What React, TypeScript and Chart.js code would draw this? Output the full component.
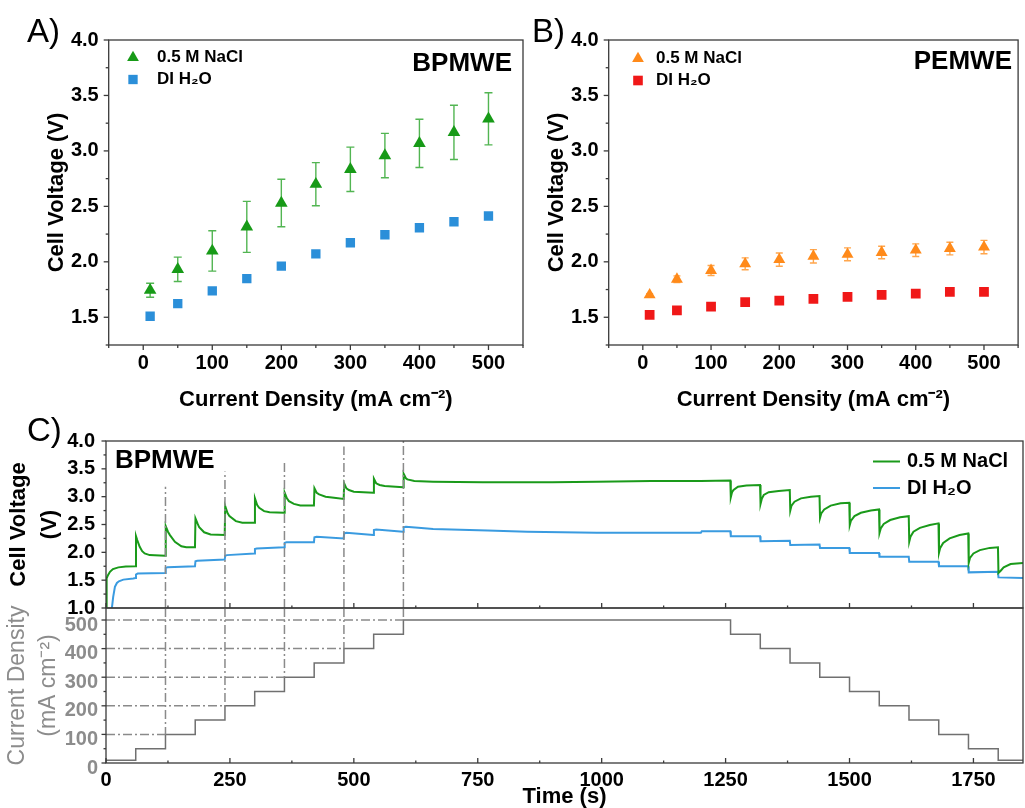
import React, { useEffect, useRef } from 'react';
import { Chart, registerables } from 'chart.js';

Chart.register(...registerables);

const W = 1025;
const H = 808;
const FONT = "'Liberation Sans', Arial, Helvetica, sans-serif";
Chart.defaults.font.family = FONT;
Chart.defaults.color = '#000';

// ---------- Panels A / B : polarization data ----------
const currentDensities = [10, 50, 100, 150, 200, 250, 300, 350, 400, 450, 500];
const bpmNaCl = [1.744, 1.932, 2.098, 2.315, 2.53, 2.70, 2.834, 2.958, 3.068, 3.167, 3.289];
const bpmNaClErr = [0.063, 0.11, 0.182, 0.23, 0.214, 0.194, 0.2, 0.2, 0.218, 0.245, 0.235];
const bpmDI = [1.509, 1.623, 1.738, 1.849, 1.961, 2.072, 2.172, 2.244, 2.307, 2.361, 2.413];
const pemNaCl = [1.702, 1.843, 1.922, 1.982, 2.02, 2.05, 2.068, 2.084, 2.105, 2.12, 2.133];
const pemNaClErr = [0.01, 0.03, 0.045, 0.054, 0.06, 0.06, 0.058, 0.057, 0.057, 0.057, 0.06];
const pemDI = [1.521, 1.563, 1.596, 1.636, 1.651, 1.666, 1.684, 1.702, 1.714, 1.729, 1.729];
const pemDIErr = [0.018, 0.018, 0.018, 0.018, 0.018, 0.018, 0.018, 0.018, 0.018, 0.018, 0.018];

const xTicksAB = [0, 100, 200, 300, 400, 500];
const xMinorAB = [-50, 50, 150, 250, 350, 450, 550];
const yTicksAB = [1.5, 2.0, 2.5, 3.0, 3.5, 4.0];
const yMinorAB = [1.25, 1.75, 2.25, 2.75, 3.25, 3.75];

// ---------- Panel C : chronopotentiometry ----------
const naclTime = [0, 0.5, 2, 4, 8, 14, 25, 40, 59.5,
  60.5, 63, 68, 73, 78, 88, 119.5,
  120.5, 125, 129, 139, 152, 162, 179.5,
  180.5, 185, 188, 198, 211, 239.5,
  240.5, 245, 249, 262, 275, 299.5,
  300.5, 305, 309, 319, 330, 359.5,
  360.5, 365, 369, 379, 392, 419.5,
  420.5, 425, 430, 443, 460, 479.5,
  480.5, 485, 490, 500, 539.5,
  540.5, 545, 552, 562, 599.5,
  600.5, 605, 608, 622, 660, 760, 900, 990, 1100, 1200, 1259.5,
  1260.5, 1263, 1266, 1275, 1292, 1319.5,
  1320.5, 1323, 1327, 1337, 1357, 1379.5,
  1380.5, 1383, 1389, 1402, 1422, 1439.5,
  1440.5, 1443, 1449, 1462, 1482, 1499.5,
  1500.5, 1503, 1510, 1523, 1543, 1559.5,
  1560.5, 1563, 1569, 1582, 1602, 1619.5,
  1620.5, 1623, 1629, 1642, 1662, 1679.5,
  1680.5, 1683, 1689, 1702, 1722, 1739.5,
  1740.5, 1743, 1750, 1763, 1783, 1799.5,
  1800.5, 1805, 1811, 1825, 1850];
const naclVolt = [1.0, 1.45, 1.53, 1.59, 1.65, 1.70, 1.73, 1.745, 1.75,
  2.29, 2.22, 2.10, 2.02, 1.98, 1.95, 1.94,
  2.47, 2.37, 2.31, 2.19, 2.11, 2.09, 2.09,
  2.61, 2.51, 2.45, 2.36, 2.32, 2.31,
  2.83, 2.71, 2.65, 2.56, 2.53, 2.53,
  2.97, 2.85, 2.80, 2.74, 2.72, 2.71,
  3.07, 2.97, 2.92, 2.87, 2.84, 2.84,
  3.15, 3.07, 3.04, 3.00, 2.98, 2.96,
  3.24, 3.15, 3.12, 3.09, 3.07,
  3.32, 3.24, 3.21, 3.19, 3.17,
  3.41, 3.33, 3.31, 3.28, 3.27, 3.26, 3.26, 3.27, 3.28, 3.28, 3.29,
  2.99, 3.08, 3.12, 3.18, 3.20, 3.21,
  2.87, 2.96, 3.03, 3.08, 3.10, 3.12,
  2.75, 2.84, 2.91, 2.97, 3.00, 3.01,
  2.62, 2.70, 2.77, 2.84, 2.88, 2.89,
  2.49, 2.57, 2.65, 2.71, 2.75, 2.77,
  2.35, 2.43, 2.51, 2.58, 2.63, 2.65,
  2.19, 2.28, 2.37, 2.44, 2.49, 2.52,
  1.99, 2.08, 2.17, 2.25, 2.31, 2.34,
  1.81, 1.90, 1.98, 2.04, 2.08, 2.09,
  1.63, 1.67, 1.73, 1.79, 1.81];

const diTime = [11.5, 14.5, 18, 22, 26, 35, 55, 59.5,
  60.5, 64, 119.5,
  120.5, 124, 179.5,
  180.5, 184, 239.5,
  240.5, 244, 299.5,
  300.5, 304, 359.5,
  360.5, 364, 419.5,
  420.5, 425, 479.5,
  480.5, 485, 539.5,
  540.5, 545, 599.5,
  600.5, 605, 630, 660, 770, 850, 990, 1200, 1202, 1259.5,
  1260.5, 1319.5, 1320.5, 1379.5, 1380.5, 1439.5, 1440.5, 1499.5, 1500.5, 1559.5,
  1560.5, 1619.5, 1620.5, 1679.5, 1680.5, 1739.5, 1740.5, 1799.5, 1800.5, 1850];
const diVolt = [0.97, 1.2, 1.38, 1.45, 1.48, 1.51, 1.53, 1.54,
  1.60, 1.62, 1.63,
  1.72, 1.73, 1.75,
  1.84, 1.85, 1.87,
  1.94, 1.95, 1.98,
  2.06, 2.07, 2.09,
  2.17, 2.18, 2.18,
  2.27, 2.28, 2.25,
  2.34, 2.35, 2.31,
  2.40, 2.41, 2.37,
  2.45, 2.46, 2.44, 2.42, 2.39, 2.37, 2.35, 2.35, 2.38, 2.38,
  2.29, 2.29, 2.20, 2.21, 2.13, 2.14, 2.08, 2.08, 1.99, 1.99,
  1.92, 1.92, 1.83, 1.83, 1.75, 1.75, 1.64, 1.65, 1.55, 1.54];

const curTime = [0, 60, 120, 180, 240, 300, 360, 420, 480, 540, 600, 1260, 1320, 1380, 1440, 1500, 1560, 1620, 1680, 1740, 1800, 1850];
const curValue = [10, 50, 100, 150, 200, 250, 300, 350, 400, 450, 500, 450, 400, 350, 300, 250, 200, 150, 100, 50, 10, 10];

const refTime = [120, 240, 360, 480, 600];
const refVoltTop = [3.18, 3.45, 3.66, 3.9, 4.0];
const refCurrent = [100, 200, 300, 400, 500];

const xTicksC = [0, 250, 500, 750, 1000, 1250, 1500, 1750];
const xMinorC = [125, 375, 625, 875, 1125, 1375, 1625];
const yTicksC1 = [1.0, 1.5, 2.0, 2.5, 3.0, 3.5, 4.0];
const yMinorC1 = [1.25, 1.75, 2.25, 2.75, 3.25, 3.75];
const yTicksC2 = [0, 100, 200, 300, 400, 500];
const yMinorC2 = [50, 150, 250, 350, 450];

// ---------- colours ----------
const GREEN = '#179a17';
const GREEN_ERR = '#52b552';
const BLUE = '#2b8fd9';
const ORANGE = '#ff8a1a';
const ORANGE_ERR = '#ffa64d';
const RED = '#f01818';
const RED_ERR = '#f76a6a';
const LINE_GREEN = '#1a9a1a';
const LINE_BLUE = '#3a9be0';
const GREY = '#8c8c8c';
const DASH = '#8a8a8a';

const xy = (xs: number[], ys: number[]) => xs.map((x, i) => ({ x, y: ys[i] }));

// ---------- decoration plugin (frame, ticks, error bars, texts, legend) ----------
const decoPlugin = {
  id: 'deco',
  beforeDatasetsDraw(chart: any) {
    const { ctx, scales } = chart;
    chart.data.datasets.forEach((ds: any) => {
      if (!ds.errorBars) return;
      ctx.save();
      ctx.strokeStyle = ds.errorColor;
      ctx.lineWidth = 1.4;
      const cap = ds.errorCap || 4;
      ds.data.forEach((p: any, j: number) => {
        const e = ds.errorBars[j];
        const px = scales.x.getPixelForValue(p.x);
        const yt = scales.y.getPixelForValue(p.y + e);
        const yb = scales.y.getPixelForValue(p.y - e);
        ctx.beginPath();
        ctx.moveTo(px, yt); ctx.lineTo(px, yb);
        ctx.moveTo(px - cap, yt); ctx.lineTo(px + cap, yt);
        ctx.moveTo(px - cap, yb); ctx.lineTo(px + cap, yb);
        ctx.stroke();
      });
      ctx.restore();
    });
  },
  afterDraw(chart: any, _args: any, opts: any) {
    const { ctx, chartArea: a, scales } = chart;
    ctx.save();
    ctx.strokeStyle = '#3a3a3a';
    ctx.lineWidth = 1.3;
    ctx.strokeRect(a.left, a.top, a.right - a.left, a.bottom - a.top);
    const drawTicks = (axis: string, vals: number[], len: number, dir: number) => {
      vals.forEach((v) => {
        ctx.beginPath();
        if (axis === 'x') {
          const px = scales.x.getPixelForValue(v);
          ctx.moveTo(px, a.bottom);
          ctx.lineTo(px, a.bottom + dir * len);
        } else {
          const py = scales.y.getPixelForValue(v);
          ctx.moveTo(a.left, py);
          ctx.lineTo(a.left - dir * len, py);
        }
        ctx.stroke();
      });
    };
    (opts.ticks || []).forEach((t: any) => drawTicks(t.axis, t.values, t.len, t.dir));

    (opts.legend || []).forEach((l: any) => {
      ctx.fillStyle = l.color;
      ctx.strokeStyle = l.color;
      if (l.kind === 'tri') {
        const r = l.r;
        ctx.beginPath();
        ctx.moveTo(l.x, l.y - r);
        ctx.lineTo(l.x + r * 0.866, l.y + r / 2);
        ctx.lineTo(l.x - r * 0.866, l.y + r / 2);
        ctx.closePath();
        ctx.fill();
      } else if (l.kind === 'rect') {
        const s = l.r * Math.SQRT1_2;
        ctx.fillRect(l.x - s, l.y - s, 2 * s, 2 * s);
      } else {
        ctx.lineWidth = 2;
        ctx.beginPath();
        ctx.moveTo(l.x, l.y);
        ctx.lineTo(l.x + l.len, l.y);
        ctx.stroke();
      }
      ctx.fillStyle = '#000';
      ctx.font = `bold ${l.size}px ${FONT}`;
      ctx.textAlign = 'left';
      ctx.textBaseline = 'middle';
      ctx.fillText(l.text, l.tx, l.ty ?? l.y);
    });

    (opts.texts || []).forEach((t: any) => {
      ctx.fillStyle = t.color || '#000';
      ctx.font = `${t.weight || 'normal'} ${t.size}px ${FONT}`;
      ctx.textAlign = t.align || 'left';
      ctx.textBaseline = 'alphabetic';
      ctx.fillText(t.text, t.x, t.y);
    });
    ctx.restore();
  },
};

const setTicks = (vals: number[]) => (s: any) => {
  s.ticks = vals.map((v) => ({ value: v }));
};
const fix1 = (v: any) => Number(v).toFixed(1);
const plain = (v: any) => String(v);
const hiddenGrid = { display: false, drawTicks: false };
const tickFont = { size: 20, weight: 'bold' as const };

function polarizationConfig(panel: 'A' | 'B') {
  const isA = panel === 'A';
  const padLeft = isA ? 30 : 530;
  const padRight = isA ? 502 : 2;
  const naclData = isA ? bpmNaCl : pemNaCl;
  const diData = isA ? bpmDI : pemDI;
  const texts = isA
    ? [
        { text: 'A)', x: 27, y: 42, size: 33 },
        { text: 'BPMWE', x: 512, y: 71, size: 26, weight: 'bold', align: 'right' },
      ]
    : [
        { text: 'B)', x: 532, y: 42, size: 33 },
        { text: 'PEMWE', x: 1012, y: 69, size: 26, weight: 'bold', align: 'right' },
      ];
  const legend = isA
    ? [
        { kind: 'tri', color: GREEN, x: 133, y: 57.5, r: 6.8, text: '0.5 M NaCl', tx: 157, size: 17 },
        { kind: 'rect', color: BLUE, x: 133, y: 79.5, r: 6.6, text: 'DI H₂O', tx: 157, size: 17 },
      ]
    : [
        { kind: 'tri', color: ORANGE, x: 638, y: 58.5, r: 6.8, text: '0.5 M NaCl', tx: 656, size: 17 },
        { kind: 'rect', color: RED, x: 638, y: 80.5, r: 6.8, text: 'DI H₂O', tx: 656, size: 17 },
      ];
  return {
    type: 'scatter',
    data: {
      datasets: [
        {
          label: '0.5 M NaCl',
          data: xy(currentDensities, naclData),
          pointStyle: 'triangle',
          pointRadius: isA ? 7.3 : 6.9,
          pointBackgroundColor: isA ? GREEN : ORANGE,
          pointBorderColor: isA ? GREEN : ORANGE,
          pointBorderWidth: 0,
          errorBars: isA ? bpmNaClErr : pemNaClErr,
          errorColor: isA ? GREEN_ERR : ORANGE_ERR,
          errorCap: isA ? 4 : 3.5,
        },
        {
          label: 'DI H₂O',
          data: xy(currentDensities, diData),
          pointStyle: 'rect',
          pointRadius: isA ? 6.6 : 6.9,
          pointBackgroundColor: isA ? BLUE : RED,
          pointBorderColor: isA ? BLUE : RED,
          pointBorderWidth: 0,
          ...(isA ? {} : { errorBars: pemDIErr, errorColor: RED_ERR, errorCap: 3.5 }),
        },
      ],
    },
    options: {
      responsive: false,
      animation: false,
      events: [],
      layout: { padding: { left: padLeft, top: 40, right: padRight, bottom: 383 } },
      plugins: {
        legend: { display: false },
        tooltip: { enabled: false },
        deco: {
          ticks: [
            { axis: 'x', values: xTicksAB, len: 5, dir: 1 },
            { axis: 'x', values: xMinorAB, len: 3, dir: 1 },
            { axis: 'y', values: yTicksAB, len: 5, dir: 1 },
            { axis: 'y', values: yMinorAB, len: 3, dir: 1 },
          ],
          texts,
          legend,
        },
      },
      scales: {
        x: {
          type: 'linear',
          min: -50,
          max: 550,
          afterBuildTicks: setTicks(xTicksAB),
          afterFit: (s: any) => { s.height = 80; },
          grid: hiddenGrid,
          border: { display: false },
          ticks: { padding: 6, font: tickFont, color: '#000', maxRotation: 0, callback: plain },
          title: {
            display: true,
            text: 'Current Density (mA cm⁻²)',
            font: { size: 22, weight: 'bold' },
            color: '#000',
            padding: { top: 0, bottom: 12 },
          },
        },
        y: {
          type: 'linear',
          min: 1.25,
          max: 4.0,
          afterBuildTicks: setTicks(yTicksAB),
          afterFit: (s: any) => { s.width = 78.7; },
          grid: hiddenGrid,
          border: { display: false },
          ticks: { padding: 10, font: tickFont, color: '#000', callback: fix1 },
          title: {
            display: true,
            text: 'Cell Voltage (V)',
            font: { size: 22, weight: 'bold' },
            color: '#000',
            padding: { top: 14, bottom: 0 },
          },
        },
      },
    },
    plugins: [decoPlugin],
  };
}

const dashStyle = { borderColor: DASH, borderWidth: 1.5, borderDash: [9, 3, 2, 3], pointRadius: 0, fill: false };

function voltageConfig() {
  const refs = refTime.map((t, i) => ({
    ...dashStyle,
    data: [{ x: t, y: 1.0 }, { x: t, y: refVoltTop[i] }],
  }));
  return {
    type: 'line',
    data: {
      datasets: [
        ...refs,
        { label: '0.5 M NaCl', data: xy(naclTime, naclVolt), borderColor: LINE_GREEN, borderWidth: 2, pointRadius: 0, tension: 0 },
        { label: 'DI H₂O', data: xy(diTime, diVolt), borderColor: LINE_BLUE, borderWidth: 2, pointRadius: 0, tension: 0 },
      ],
    },
    options: {
      responsive: false,
      animation: false,
      events: [],
      layout: { padding: { left: 0, top: 441, right: 2, bottom: 200 } },
      plugins: {
        legend: { display: false },
        tooltip: { enabled: false },
        deco: {
          ticks: [
            { axis: 'x', values: xTicksC, len: 5, dir: -1 },
            { axis: 'x', values: xMinorC, len: 2.5, dir: -1 },
            { axis: 'y', values: yTicksC1, len: 4.5, dir: 1 },
            { axis: 'y', values: yMinorC1, len: 2.5, dir: 1 },
          ],
          texts: [
            { text: 'C)', x: 27, y: 441, size: 33 },
            { text: 'BPMWE', x: 115, y: 468, size: 26, weight: 'bold' },
          ],
          legend: [
            { kind: 'line', color: LINE_GREEN, x: 873, y: 461.5, len: 27, text: '0.5 M NaCl', tx: 907, size: 20 },
            { kind: 'line', color: LINE_BLUE, x: 873, y: 488, len: 27, text: 'DI H₂O', tx: 907, size: 20 },
          ],
        },
      },
      scales: {
        x: {
          type: 'linear',
          min: 0,
          max: 1850,
          afterBuildTicks: setTicks(xTicksC),
          afterFit: (s: any) => { s.height = 0; },
          grid: hiddenGrid,
          border: { display: false },
          ticks: { display: false },
        },
        y: {
          type: 'linear',
          min: 1.0,
          max: 4.0,
          afterBuildTicks: setTicks(yTicksC1),
          afterFit: (s: any) => { s.width = 106; },
          grid: hiddenGrid,
          border: { display: false },
          ticks: { padding: 11, font: tickFont, color: '#000', callback: fix1 },
          title: {
            display: true,
            text: ['Cell Voltage', '(V)'],
            font: { size: 22, weight: 'bold', lineHeight: 1.41 },
            color: '#000',
            padding: { top: 3.5, bottom: 0 },
          },
        },
      },
    },
    plugins: [decoPlugin],
  };
}

function currentConfig() {
  const yTop = 542;
  const verticals = refTime.map((t, i) => ({
    ...dashStyle,
    data: [{ x: t, y: yTop }, { x: t, y: refCurrent[i] }],
  }));
  const horizontals = refTime.map((t, i) => ({
    ...dashStyle,
    data: [{ x: 0, y: refCurrent[i] }, { x: t, y: refCurrent[i] }],
  }));
  return {
    type: 'line',
    data: {
      datasets: [
        ...verticals,
        ...horizontals,
        { label: 'Current density', data: xy(curTime, curValue), borderColor: '#707070', borderWidth: 1.5, pointRadius: 0, stepped: 'before' },
      ],
    },
    options: {
      responsive: false,
      animation: false,
      events: [],
      layout: { padding: { left: 0, top: 608, right: 2, bottom: 0 } },
      plugins: {
        legend: { display: false },
        tooltip: { enabled: false },
        deco: {
          ticks: [
            { axis: 'x', values: xTicksC, len: 5, dir: -1 },
            { axis: 'x', values: xMinorC, len: 2.5, dir: -1 },
            { axis: 'y', values: yTicksC2, len: 4.5, dir: 1 },
            { axis: 'y', values: yMinorC2, len: 2.5, dir: 1 },
          ],
        },
      },
      scales: {
        x: {
          type: 'linear',
          min: 0,
          max: 1850,
          afterBuildTicks: setTicks(xTicksC),
          afterFit: (s: any) => { s.height = 45; },
          grid: hiddenGrid,
          border: { display: false },
          ticks: { padding: 5, font: tickFont, color: '#000', maxRotation: 0, callback: plain },
          title: {
            display: true,
            text: 'Time (s)',
            font: { size: 22, weight: 'bold', lineHeight: 1.0 },
            color: '#000',
            padding: { top: 0, bottom: 0 },
          },
        },
        y: {
          type: 'linear',
          min: 0,
          max: yTop,
          afterBuildTicks: setTicks(yTicksC2),
          afterFit: (s: any) => { s.width = 106; },
          grid: hiddenGrid,
          border: { display: false },
          ticks: { padding: 8, labelOffset: 5, font: tickFont, color: GREY, callback: plain },
          title: {
            display: true,
            text: ['Current Density', '(mA cm⁻²)'],
            font: { size: 23, weight: 'normal', lineHeight: 1.35 },
            color: GREY,
            padding: { top: 2, bottom: 0 },
          },
        },
      },
    },
    plugins: [decoPlugin],
  };
}

function ChartLayer({ make }: { make: () => any }) {
  const ref = useRef<HTMLCanvasElement>(null);
  useEffect(() => {
    if (!ref.current) return;
    const chart = new Chart(ref.current, make());
    return () => chart.destroy();
  }, [make]);
  return (
    <canvas
      ref={ref}
      width={W}
      height={H}
      style={{ position: 'absolute', left: 0, top: 0, width: W, height: H }}
    />
  );
}

const makeA = () => polarizationConfig('A');
const makeB = () => polarizationConfig('B');

export default function App() {
  return (
    <div style={{ position: 'absolute', left: 0, top: 0, width: W, height: H, background: '#fff', overflow: 'hidden' }}>
      <ChartLayer make={makeA} />
      <ChartLayer make={makeB} />
      <ChartLayer make={voltageConfig} />
      <ChartLayer make={currentConfig} />
    </div>
  );
}
